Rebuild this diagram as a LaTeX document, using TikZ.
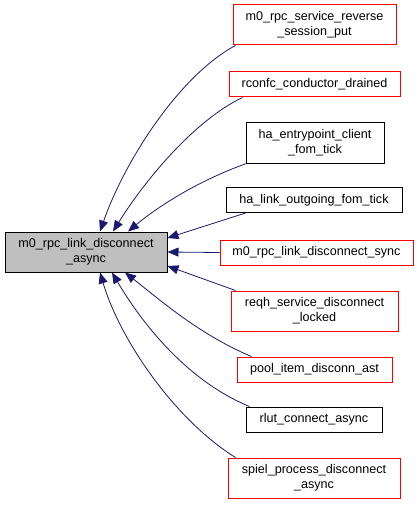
\documentclass[tikz,border=0pt]{standalone}
\usepackage{fontspec}
\setmainfont{Liberation Sans}
\usetikzlibrary{arrows.meta}
\definecolor{edge-blue}{HTML}{191970}
\definecolor{node-red}{HTML}{FF0000}
\definecolor{node-gray}{HTML}{BFBFBF}

\begin{document}
\begin{tikzpicture}[x=1pt, y=-1pt,
        every node/.style={font=\fontsize{12.6}{15}\selectfont, align=center, inner sep=0pt},
        fnbox/.style={draw=black, fill=white, line width=1pt, rectangle},
        redbox/.style={fnbox, draw=node-red},
        call/.style={draw=edge-blue, line width=0.8pt, -{Triangle[length=11pt,width=9pt]}}]
      \useasboundingbox (0,0) rectangle (419,505);
      \node[fnbox, fill=node-gray, minimum width=162pt, minimum height=40pt] (MAIN) at (86,252) {m0\_rpc\_link\_disconnect\\\_async};
      \node[redbox, minimum width=163pt, minimum height=40pt] (RSP) at (314.5,25) {m0\_rpc\_service\_reverse\\\_session\_put};
      \node[redbox, minimum width=171pt, minimum height=25pt] (RCD) at (314.5,84.5) {rconfc\_conductor\_drained};
      \node[fnbox, minimum width=138pt, minimum height=40pt] (HEC) at (315,143) {ha\_entrypoint\_client\\\_fom\_tick};
      \node[fnbox, minimum width=176pt, minimum height=25pt] (HLO) at (314,200) {ha\_link\_outgoing\_fom\_tick};
      \node[redbox, minimum width=193pt, minimum height=25pt] (LDS) at (316.5,252.5) {m0\_rpc\_link\_disconnect\_sync};
      \node[redbox, minimum width=167pt, minimum height=40pt] (RSD) at (314.5,311) {reqh\_service\_disconnect\\\_locked};
      \node[redbox, minimum width=155pt, minimum height=25pt] (PID) at (314.5,369.5) {pool\_item\_disconn\_ast};
      \node[fnbox, minimum width=136pt, minimum height=25pt] (RCA) at (314,419.5) {rlut\_connect\_async};
      \node[redbox, minimum width=172pt, minimum height=40pt] (SPD) at (314,478) {spiel\_process\_disconnect\\\_async};
      \draw[call] ([xshift=3pt]RSP.south west) .. controls (180,75) and (125,160) .. ([xshift=14pt]MAIN.north);
      \draw[call] ([xshift=14pt]RCD.south west) .. controls (195,120) and (145,180) .. ([xshift=27pt]MAIN.north);
      \draw[call] ([xshift=1pt]HEC.south west) .. controls (200,180) and (160,205) .. ([xshift=42pt]MAIN.north);
      \draw[call] ([xshift=20pt]HLO.south west) -- ([yshift=14pt]MAIN.east);
      \draw[call] (LDS.west) -- (MAIN.east);
      \draw[call] ([xshift=5pt]RSD.north west) -- ([yshift=-14pt]MAIN.east);
      \draw[call] ([xshift=15pt]PID.north west) .. controls (200,335) and (160,300) .. ([xshift=39pt]MAIN.south);
      \draw[call] ([xshift=4pt]RCA.north west) .. controls (185,380) and (140,320) .. ([xshift=26pt]MAIN.south);
      \draw[call] ([xshift=8pt]SPD.north west) .. controls (175,420) and (120,340) .. ([xshift=14pt]MAIN.south);
\end{tikzpicture}
\end{document}
